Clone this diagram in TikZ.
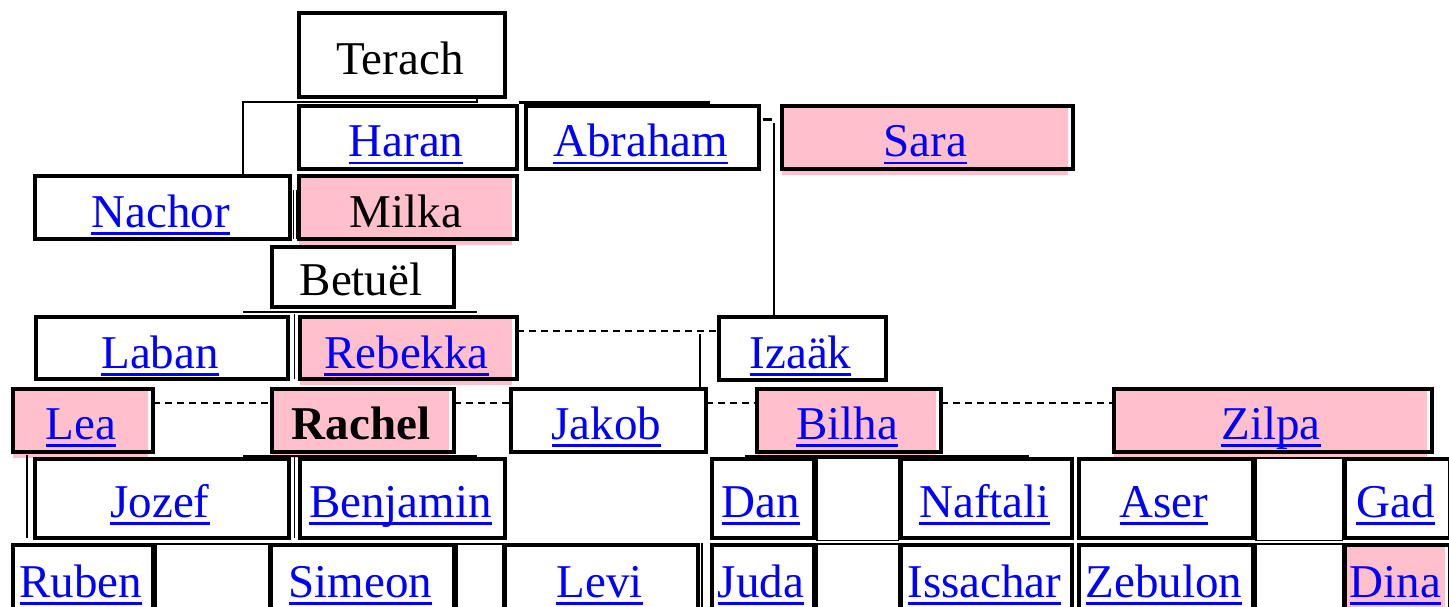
\documentclass[tikz,border=0pt]{standalone}
\usepackage{fontspec}
\setmainfont{Liberation Serif}
\definecolor{mypink}{RGB}{255,192,203}
\definecolor{lnkblue}{RGB}{0,0,255}
\newcommand\lnk[1]{{\color{lnkblue}\setbox0\hbox{#1}\rlap{\rule[-7.5pt]{\wd0}{2.5pt}}\box0}}
\tikzset{
 boxst/.style={draw, line width=4pt, inner sep=0pt, outer sep=0pt, anchor=north west},
 cellst/.style={draw, line width=1.5pt, inner sep=0pt, outer sep=0pt, anchor=north west},
 txt/.style={anchor=base, inner sep=0pt, font=\fontsize{47}{56}\selectfont},
 thinl/.style={line width=1.5pt},
 hairl/.style={line width=1pt},
 barl/.style={line width=2.5pt},
 dsh/.style={line width=2pt, dash pattern=on 7pt off 5pt},
}
\newcommand\fbx[8]{%
 \node[#1, minimum width={#5-#3-4}, minimum height={#6-#4-4}] (#2) at ({#3+2},{#4+2}) {};
 \node[txt] (#2t) at ({(#3+#5)/2-2},#7) {#8};}
\newcommand\pbx[8]{%
 \fill[mypink] ({#3+2},{#4+2}) rectangle ({#5-7},{#6+4});
 \fbx{#1}{#2}{#3}{#4}{#5}{#6}{#7}{#8}}
\newcommand\ecell[5]{%
 \node[cellst, minimum width={#4-#2-1.5}, minimum height={#5-#3-1.5}] (#1) at ({#2+0.75},{#3+0.75}) {};}
\begin{document}
\begin{tikzpicture}[x=1pt,y=-1pt]
\useasboundingbox (0,0) rectangle (1449,607);
% row 1-2
\fbx{boxst}{Terach}{297}{11}{507}{99}{75}{Terach}
\fbx{boxst}{Haran}{297}{104}{519}{171}{157}{\lnk{Haran}}
\fbx{boxst}{Abraham}{524}{104}{761}{171}{157}{\lnk{Abraham}}
\pbx{boxst}{Sara}{780}{104}{1075}{171}{157}{\lnk{Sara}}
% row 3
\fbx{boxst}{Nachor}{33}{174}{292}{241}{227}{\lnk{Nachor}}
\pbx{boxst}{Milka}{297}{174}{519}{241}{227}{Milka}
% row 4
\fbx{boxst}{Betuel}{270}{245}{456}{309}{295}{Betuël}
% row 5
\fbx{boxst}{Laban}{34}{315}{290}{381}{368}{\lnk{Laban}}
\pbx{boxst}{Rebekka}{298}{315}{519}{381}{368}{\lnk{Rebekka}}
\fbx{boxst}{Izaak}{717}{315}{888}{382}{368}{\lnk{Izaäk}}
% row 6
\pbx{boxst}{Lea}{11}{387}{155}{454}{439}{\lnk{Lea}}
\pbx{boxst}{Rachel}{270}{387}{456}{454}{439}{\textbf{Rachel}}
\fbx{boxst}{Jakob}{509}{387}{708}{454}{439}{\lnk{Jakob}}
\pbx{boxst}{Bilha}{755}{387}{943}{454}{439}{\lnk{Bilha}}
\pbx{boxst}{Zilpa}{1112}{387}{1434}{454}{439}{\lnk{Zilpa}}
% row 7
\fbx{boxst}{Jozef}{33}{457}{291}{540}{517}{\lnk{Jozef}}
\fbx{boxst}{Benjamin}{298}{457}{507}{540}{517}{\lnk{Benjamin}}
\fbx{boxst}{Dan}{710}{457}{816}{540}{517}{\lnk{Dan}}
\ecell{e1}{816}{457}{899}{541}
\fbx{boxst}{Naftali}{899}{457}{1074}{540}{517}{\lnk{Naftali}}
\fbx{boxst}{Aser}{1077}{457}{1255}{540}{517}{\lnk{Aser}}
\ecell{e2}{1255}{457}{1343}{541}
\fbx{boxst}{Gad}{1343}{457}{1452}{540}{517}{\lnk{Gad}}
% row 8
\fbx{boxst}{Ruben}{11}{543}{155}{622}{597}{\lnk{Ruben}}
\ecell{e3}{155}{543}{269}{622}
\fbx{boxst}{Simeon}{269}{543}{456}{622}{597}{\lnk{Simeon}}
\ecell{e4}{456}{543}{503}{622}
\fbx{boxst}{Levi}{503}{543}{700}{622}{597}{\lnk{Levi}}
\fbx{boxst}{Juda}{710}{543}{816}{622}{597}{\lnk{Juda}}
\ecell{e5}{816}{543}{899}{622}
\fbx{boxst}{Issachar}{899}{543}{1074}{622}{597}{\lnk{Issachar}}
\fbx{boxst}{Zebulon}{1077}{543}{1255}{622}{597}{\lnk{Zebulon}}
\ecell{e6}{1255}{543}{1343}{622}
\pbx{boxst}{Dina}{1343}{543}{1452}{622}{597}{\lnk{Dina}}
% connectors
\coordinate (t1) at (243,102);
\coordinate (t2) at (477,102);
\draw[thinl] (Terach.south -| t2) -- (t2) -- (t1) -- (t1 |- Nachor.north);
\coordinate (a1) at (519,103);
\coordinate (a2) at (710,103);
\draw[line width=3pt] (a1) -- (a2);
\coordinate (a3) at (763,120);
\coordinate (a4) at (772,120);
\draw[line width=3pt] (a3) -- (a4);
\coordinate (a5) at (774,123);
\draw[thinl] (a5) -- (a5 |- Izaak.north);
\coordinate (r5) at (0,331);
\draw[dsh] (Rebekka.east |- r5) -- (Izaak.west |- r5);
\coordinate (j1) at (700,334);
\draw[thinl] (j1) -- (j1 |- Jakob.north);
\coordinate (r6) at (0,403);
\draw[dsh] (Lea.east |- r6) -- (Rachel.west |- r6);
\draw[dsh] (Rachel.east |- r6) -- (Jakob.west |- r6);
\draw[dsh] (Jakob.east |- r6) -- (Bilha.west |- r6);
\draw[dsh] (Bilha.east |- r6) -- (Zilpa.west |- r6);
% table rules
\coordinate (b1) at (243,312); \coordinate (b2) at (477,312);
\draw[barl] (b1) -- (b2);
\coordinate (b3) at (243,456); \coordinate (b4) at (477,456);
\draw[barl] (b3) -- (b4);
\coordinate (b5) at (745,456); \coordinate (b6) at (1029,456);
\draw[line width=3pt] (b5) -- (b6);
\coordinate (v1) at (293,190); \coordinate (v2) at (296,190);
\draw[hairl] (v1) -- (v1 |- Milka.south);
\draw[hairl] (v2) -- (v2 |- Milka.south);
\coordinate (v3) at (294.5,314);
\draw[hairl] (v3) -- (v3 |- Rebekka.south);
\coordinate (v4) at (294,457);
\draw[hairl] (v4) -- (v4 |- Benjamin.south);
\coordinate (v5) at (27,455);
\draw[thinl] (v5) -- (v5 |- Jozef.south);
\coordinate (v6) at (702,543);
\draw[thinl] (v6) -- (v6 |- Levi.south);
\end{tikzpicture}
\end{document}
